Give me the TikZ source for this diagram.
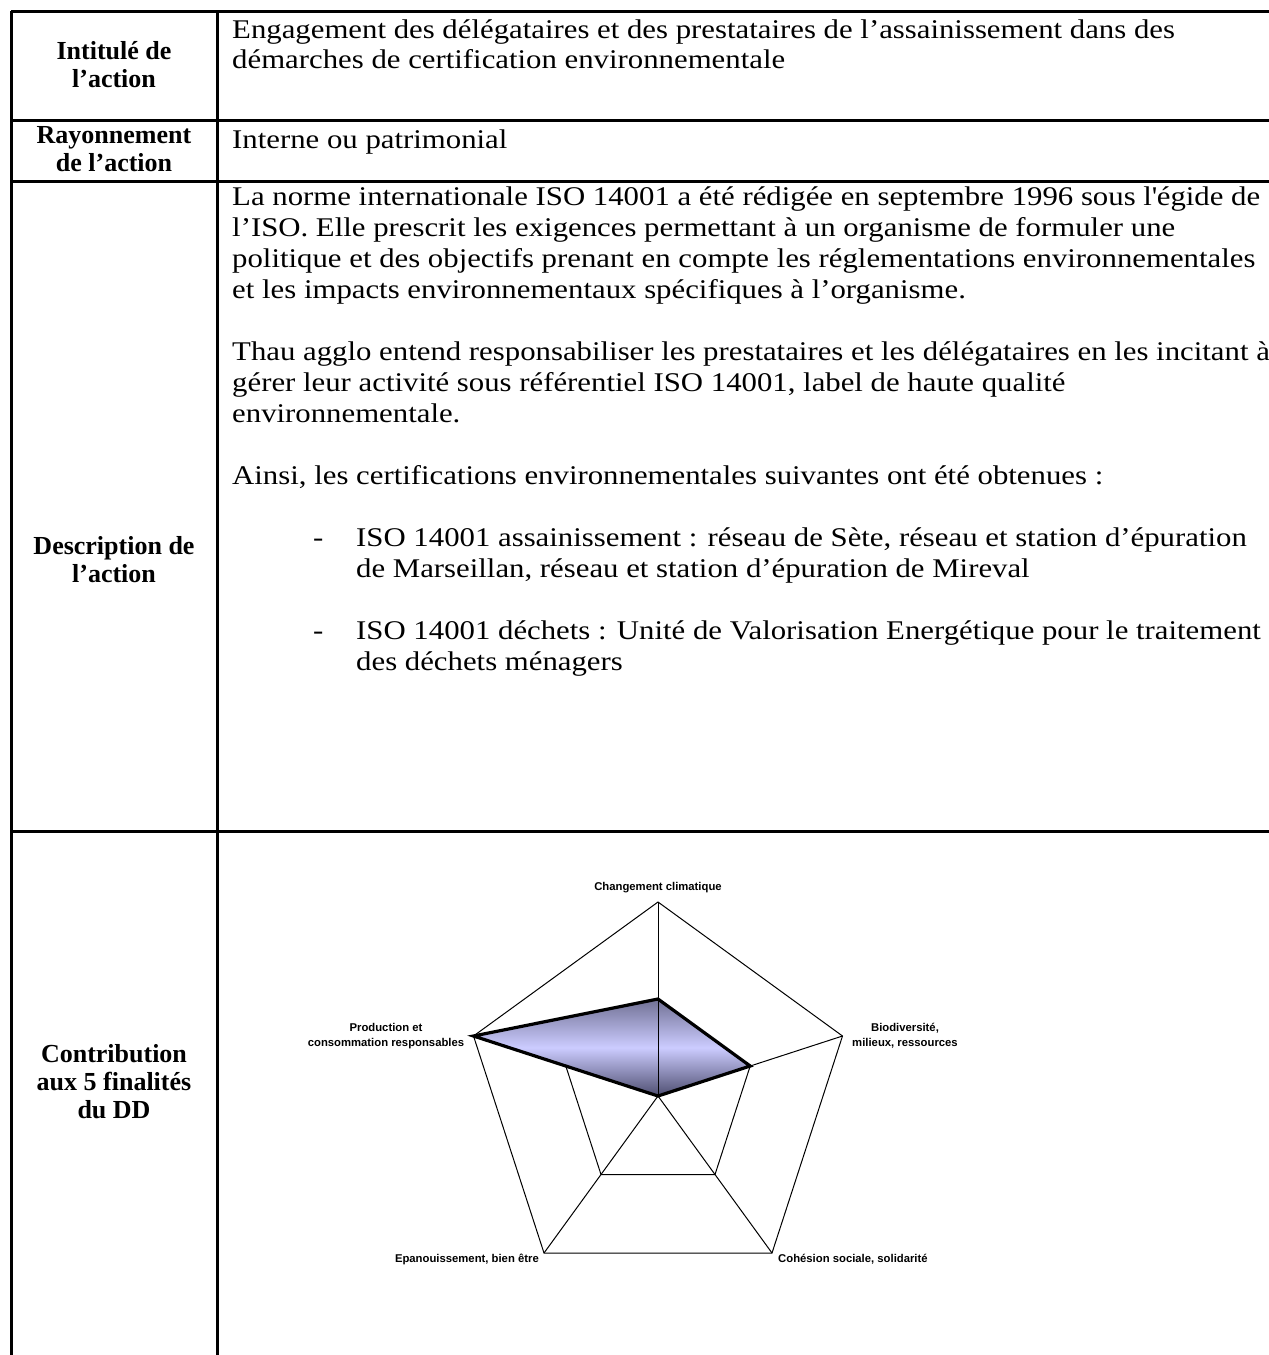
\documentclass[tikz,border=0pt]{standalone}
\usepackage{fontspec}
\newfontfamily\bodyfam[FakeStretch=1.14]{Liberation Serif}
\newfontfamily\labfam{Liberation Serif}
\newfontfamily\axfam{Liberation Sans}
\definecolor{shtop}{RGB}{112,112,148}
\definecolor{shmid}{RGB}{204,204,255}
\definecolor{shbot}{RGB}{78,78,112}
\begin{document}
\begin{tikzpicture}[x=1pt,y=-1pt,
  rule/.style={line width=3pt},
  grid/.style={line width=1pt,black},
  body/.style={font=\bodyfam\fontsize{27}{31}\selectfont,anchor=base west,inner sep=0pt},
  lab/.style={font=\labfam\bfseries\fontsize{26}{28}\selectfont,anchor=base,inner sep=0pt},
  ax/.style={font=\axfam\bfseries\fontsize{11.3}{14}\selectfont,inner sep=0pt}]
\useasboundingbox (0,0) rectangle (1269,1355);
% table
\coordinate (TL) at (11,11);
\coordinate (TM) at (217,11);
\coordinate (TR) at (1270,11);
\coordinate (L1) at (11,120);  \coordinate (R1) at (1270,120);
\coordinate (L2) at (11,181);  \coordinate (R2) at (1270,181);
\coordinate (L3) at (11,831);  \coordinate (R3) at (1270,831);
\coordinate (BL) at (11,1356);
\coordinate (BM) at (217,1356);
\draw[rule] (TL) -- (TR);
\draw[rule] (L1) -- (R1);
\draw[rule] (L2) -- (R2);
\draw[rule] (L3) -- (R3);
\draw[rule] (TL) -- (BL);
\draw[rule] (TM) -- (BM);
% left labels
\node[lab] (la1) at (114,59) {Intitulé de};
\node[lab] (la2) at (114,87) {l’action};
\node[lab] (lb1) at (114,143) {Rayonnement};
\node[lab] (lb2) at (114,171) {de l’action};
\node[lab] (lc1) at (114,554) {Description de};
\node[lab] (lc2) at (114,582) {l’action};
\node[lab] (ld1) at (114,1062) {Contribution};
\node[lab] (ld2) at (114,1090) {aux 5 finalités};
\node[lab] (ld3) at (114,1118) {du DD};
% right texts
\node[body] (t1) at (232,38) {Engagement des délégataires et des prestataires de l’assainissement dans des};
\node[body] (t2) at (232,68) {démarches de certification environnementale};
\node[body] (t3) at (232,148) {Interne ou patrimonial};
\node[body] (p1) at (232,205) {La norme internationale ISO 14001 a été rédigée en septembre 1996 sous l\textquotesingle{}égide de};
\node[body] (p2) at (232,236) {l’ISO. Elle prescrit les exigences permettant à un organisme de formuler une};
\node[body] (p3) at (232,267) {politique et des objectifs prenant en compte les réglementations environnementales};
\node[body] (p4) at (232,298) {et les impacts environnementaux spécifiques à l’organisme.};
\node[body] (q1) at (232,360) {Thau agglo entend responsabiliser les prestataires et les délégataires en les incitant à};
\node[body] (q2) at (232,391) {gérer leur activité sous référentiel ISO 14001, label de haute qualité};
\node[body] (q3) at (232,422) {environnementale.};
\node[body] (r1) at (232,484) {Ainsi, les certifications environnementales suivantes ont été obtenues :};
\node[body] (d1) at (313,546) {-};
\node[body] (s1) at (356,546) {ISO 14001 assainissement : réseau de Sète, réseau et station d’épuration};
\node[body] (s2) at (356,577) {de Marseillan, réseau et station d’épuration de Mireval};
\node[body] (d2) at (313,639) {-};
\node[body] (s3) at (356,639) {ISO 14001 déchets : Unité de Valorisation Energétique pour le traitement};
\node[body] (s4) at (356,670) {des déchets ménagers};
% radar chart
\coordinate (C) at (658,1096);
\coordinate (V1) at (658,902);
\coordinate (V2) at (842.5,1036);
\coordinate (V3) at (772,1253);
\coordinate (V4) at (544,1253);
\coordinate (V5) at (473.5,1036);
\coordinate (I1) at (658,999);
\coordinate (I2) at (750.2,1066);
\coordinate (I3) at (715,1174.5);
\coordinate (I4) at (601,1174.5);
\coordinate (I5) at (565.8,1066);
\draw[grid] (V1) -- (V2) -- (V3) -- (V4) -- (V5) -- cycle;
\draw[grid] (I1) -- (I2) -- (I3) -- (I4) -- (I5) -- cycle;
\draw[grid] (C) -- (V1);
\draw[grid] (C) -- (V2);
\draw[grid] (C) -- (V3);
\draw[grid] (C) -- (V4);
\draw[grid] (C) -- (V5);
\path[top color=shtop,bottom color=shbot,middle color=shmid] (I1) -- (I2) -- (C) -- (V5) -- cycle;
\draw[grid] (C) -- (I1);
\draw[line width=3.2pt,line join=miter] (I1) -- (I2) -- (C) -- (V5) -- cycle;
% axis labels
\node[ax,anchor=base] (a1) at (658,890) {Changement climatique};
\node[ax,anchor=base] (a2) at (905,1031) {Biodiversité,};
\node[ax,anchor=base] (a2b) at (905,1046) {milieux, ressources};
\node[ax,anchor=base west] (a3) at (778,1262) {Cohésion sociale, solidarité};
\node[ax,anchor=base east] (a4) at (539,1262) {Epanouissement, bien être};
\node[ax,anchor=base] (a5) at (386,1031) {Production et};
\node[ax,anchor=base] (a5b) at (386,1046) {consommation responsables};
\end{tikzpicture}
\end{document}
